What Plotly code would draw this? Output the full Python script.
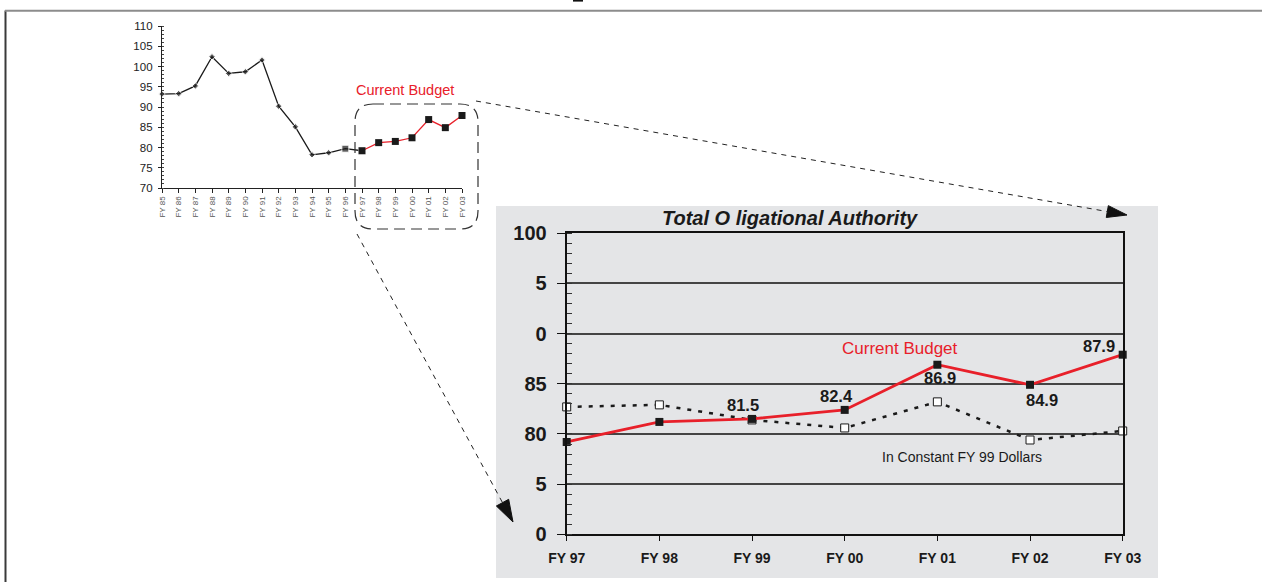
import math
import plotly.graph_objects as go

W, H = 1262, 582
FONT = "Liberation Sans, Arial, sans-serif"

# ---- data -------------------------------------------------------------
years = ["FY 85", "FY 86", "FY 87", "FY 88", "FY 89", "FY 90", "FY 91",
         "FY 92", "FY 93", "FY 94", "FY 95", "FY 96", "FY 97", "FY 98",
         "FY 99", "FY 00", "FY 01", "FY 02", "FY 03"]
# FY 85 - FY 96 history (before the current budget period)
history = [93.2, 93.3, 95.2, 102.4, 98.3, 98.7, 101.6, 90.2, 85.1, 78.2, 78.7, 79.7]
budget_years = ["FY 97", "FY 98", "FY 99", "FY 00", "FY 01", "FY 02", "FY 03"]
current_budget = [79.2, 81.2, 81.5, 82.4, 86.9, 84.9, 87.9]
constant_fy99 = [82.7, 82.9, 81.4, 80.6, 83.2, 79.4, 80.3]
labelled_years = ["FY 99", "FY 00", "FY 01", "FY 02", "FY 03"]

small_yticks = [70, 75, 80, 85, 90, 95, 100, 105, 110]
inset_ytickvals = [70, 75, 80, 85, 90, 95, 100]
inset_yticktext = ["0", "5", "80", "85", "0", "5", "100"]

# label offsets (pixels) for the value labels on the inset chart
label_offsets = {"FY 99": (-9, 14), "FY 00": (-8, 14), "FY 01": (3, -13),
                 "FY 02": (12, -15), "FY 03": (-24, 9)}


def px(x):
    return x / W


def py(y):
    return 1 - y / H


fig = go.Figure()

# ---- overview chart ---------------------------------------------------
hist_x = years[:13]
hist_y = history + [current_budget[0]]
n_hist = len(history)
fig.add_trace(go.Scatter(
    x=hist_x, y=hist_y, mode="lines+markers",
    line=dict(color="#1a1a1a", width=1.3),
    marker=dict(symbol=["diamond"] * (n_hist - 1) + ["square", "square"],
                size=[5] * (n_hist - 1) + [7, 7], color="#1a1a1a"),
    xaxis="x", yaxis="y", cliponaxis=False, showlegend=False, hoverinfo="x+y"))
fig.add_trace(go.Scatter(
    x=budget_years, y=current_budget, mode="lines+markers",
    line=dict(color="#e8202a", width=1.3),
    marker=dict(symbol="square", size=7, color="#1a1a1a"),
    xaxis="x", yaxis="y", cliponaxis=False, showlegend=False, hoverinfo="x+y"))

# ---- detail chart -----------------------------------------------------
fig.add_trace(go.Scatter(
    x=budget_years, y=constant_fy99, mode="lines+markers",
    line=dict(color="#1a1a1a", width=2.5, dash="4px,7px"),
    marker=dict(symbol="square", size=8, color="white",
                line=dict(color="#1a1a1a", width=1)),
    xaxis="x2", yaxis="y2", cliponaxis=False, showlegend=False, hoverinfo="x+y"))
fig.add_trace(go.Scatter(
    x=budget_years, y=current_budget, mode="lines+markers",
    line=dict(color="#e8202a", width=2.8),
    marker=dict(symbol="square", size=8, color="#1a1a1a"),
    xaxis="x2", yaxis="y2", cliponaxis=False, showlegend=False, hoverinfo="x+y"))

# ---- shapes -------------------------------------------------------------
shapes = []
# grey panel behind the detail chart
shapes.append(dict(type="rect", xref="paper", yref="paper",
                   x0=px(496), x1=px(1158), y0=py(578), y1=py(206),
                   fillcolor="#e4e5e7", line=dict(width=0), layer="below"))
# page frame
shapes.append(dict(type="line", xref="paper", yref="paper",
                   x0=px(5.5), x1=px(5.5), y0=py(582), y1=py(10.5),
                   line=dict(color="#3a3a3a", width=2)))
shapes.append(dict(type="line", xref="paper", yref="paper",
                   x0=px(5), x1=px(1262), y0=py(10.8), y1=py(10.8),
                   line=dict(color="#8c8c8c", width=2)))
shapes.append(dict(type="rect", xref="paper", yref="paper",
                   x0=px(573), x1=px(583), y0=py(1.6), y1=py(0),
                   fillcolor="#111", line=dict(width=0)))

# dashed rounded box around the current budget period
L, R, T, B, r = 355, 478, 104, 229, 18
box = (f"M {px(L + r)},{py(T)} L {px(R - r)},{py(T)} "
       f"Q {px(R)},{py(T)} {px(R)},{py(T + r)} L {px(R)},{py(B - r)} "
       f"Q {px(R)},{py(B)} {px(R - r)},{py(B)} L {px(L + r)},{py(B)} "
       f"Q {px(L)},{py(B)} {px(L)},{py(B - r)} L {px(L)},{py(T + r)} "
       f"Q {px(L)},{py(T)} {px(L + r)},{py(T)} Z")
shapes.append(dict(type="path", xref="paper", yref="paper", path=box,
                   line=dict(color="#333", width=1.2, dash="11px,6px")))


def dashed_arrow(x0, y0, x1, y1, head=20, half=6):
    d = math.hypot(x1 - x0, y1 - y0)
    ux, uy = (x1 - x0) / d, (y1 - y0) / d
    bx, by = x1 - ux * head, y1 - uy * head
    nx, ny = -uy, ux
    line = dict(type="line", xref="paper", yref="paper",
                x0=px(x0), y0=py(y0), x1=px(bx), y1=py(by),
                line=dict(color="#222", width=1, dash="5px,5px"))
    tri = (f"M {px(x1)},{py(y1)} L {px(bx + nx * half)},{py(by + ny * half)} "
           f"L {px(bx - nx * half)},{py(by - ny * half)} Z")
    headshape = dict(type="path", xref="paper", yref="paper", path=tri,
                     fillcolor="#111", line=dict(color="#111", width=1))
    return [line, headshape]


shapes += dashed_arrow(476, 101, 1127, 215, head=20, half=6)
shapes += dashed_arrow(357, 234, 513, 522, head=22, half=7)

# ---- annotations --------------------------------------------------------
def note(text, x, y, **font):
    return dict(text=text, xref="paper", yref="paper", x=px(x), y=py(y),
                xanchor="center", yanchor="middle", showarrow=False,
                font=dict(family=FONT, **font))


annotations = [
    note("Current Budget", 405, 90, size=14.5, color="#e8202a"),
    note("Total O ligational Authority", 790, 218, size=20, color="#1a1a1a",
         weight="bold", style="italic"),
    note("Current Budget", 900, 348, size=17, color="#e8202a"),
    note("In Constant FY 99 Dollars", 962, 457, size=14, color="#1a1a1a"),
]
for yr in labelled_years:
    v = current_budget[budget_years.index(yr)]
    dx, dy = label_offsets[yr]
    annotations.append(dict(
        text=f"{v:.1f}", x=yr, y=v, xref="x2", yref="y2", showarrow=False,
        xanchor="center", yanchor="middle", xshift=dx, yshift=dy,
        font=dict(family=FONT, size=16.5, color="#1a1a1a", weight="bold")))

fig.update_layout(
    width=W, height=H,
    margin=dict(l=0, r=0, t=0, b=0, pad=0, autoexpand=False),
    paper_bgcolor="white", plot_bgcolor="white",
    font=dict(family=FONT),
    shapes=shapes, annotations=annotations,
    xaxis=dict(domain=[px(162), px(462)], anchor="y", type="category",
               categoryorder="array", categoryarray=years, range=[0, 18],
               showline=True, linecolor="#222", linewidth=1.3,
               ticks="outside", ticklen=4, tickcolor="#222", tickangle=-90,
               tickfont=dict(family=FONT, size=8, color="#555"),
               automargin=False,
               showgrid=False, zeroline=False, fixedrange=True),
    yaxis=dict(domain=[py(188), py(26)], anchor="x", range=[70, 110],
               tickvals=small_yticks, showline=True, linecolor="#222", linewidth=1.3,
               ticks="outside", ticklen=3, tickcolor="#222",
               minor=dict(dtick=1, ticks="inside", ticklen=2, tickcolor="#444"),
               tickfont=dict(family=FONT, size=11.5, color="#222"),
               ticklabelstandoff=3, automargin=False,
               showgrid=False, zeroline=False, fixedrange=True),
    xaxis2=dict(domain=[px(566.7), px(1122.7)], anchor="y2", type="category",
                categoryorder="array", categoryarray=budget_years, range=[0, 6],
                showline=True, linecolor="#111", linewidth=2, mirror=True,
                ticks="outside", ticklen=5, tickcolor="#111",
                tickfont=dict(family=FONT, size=14, color="#1a1a1a", weight="bold"),
                ticklabelstandoff=5, automargin=False,
                showgrid=False, zeroline=False, fixedrange=True),
    yaxis2=dict(domain=[py(534.3), py(233.3)], anchor="x2", range=[70, 100],
                tickvals=inset_ytickvals, ticktext=inset_yticktext,
                showline=True, linecolor="#111", linewidth=2, mirror=True,
                ticks="outside", ticklen=8, tickcolor="#111",
                minor=dict(dtick=1, ticks="inside", ticklen=5, tickcolor="#333"),
                showgrid=True, gridcolor="#444", gridwidth=1.5,
                tickfont=dict(family=FONT, size=20, color="#1a1a1a", weight="bold"),
                ticklabelstandoff=6, automargin=False,
                zeroline=False, fixedrange=True),
)

fig.write_html("out.html", config={"displayModeBar": False})
